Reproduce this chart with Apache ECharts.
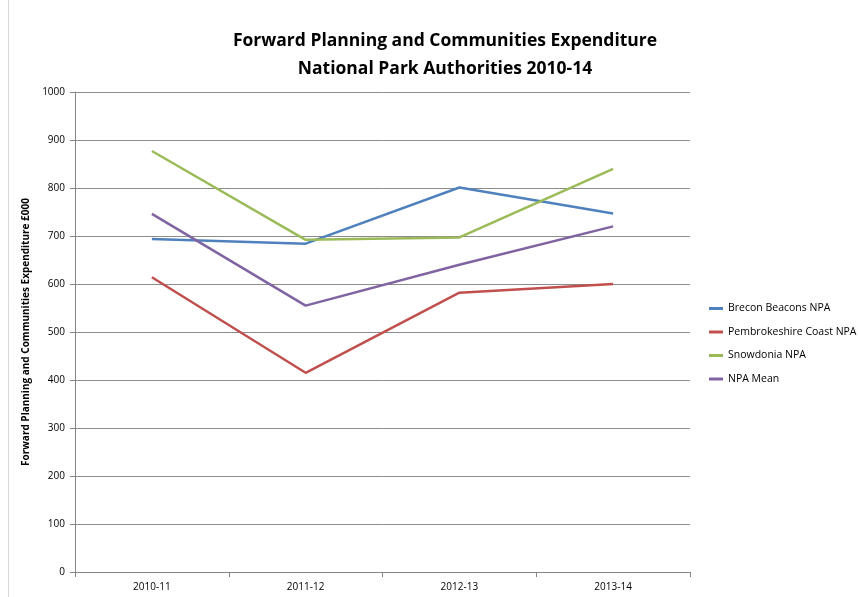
<!DOCTYPE html>
<html><head><meta charset="utf-8">
<script src="https://cdn.jsdelivr.net/npm/echarts@6/dist/echarts.min.js"></script>
<style>html,body{margin:0;padding:0;background:#fff}#c{width:858px;height:597px}</style>
</head><body><div id="c"></div>
<script>
const categories = ['2010-11','2011-12','2012-13','2013-14'];
const brecon = [694, 684, 801, 747];
const pembrokeshire = [614, 415, 582, 600];
const snowdonia = [877, 692, 697, 840];
const npaMean = [746, 555, 640, 720];
const seriesNames = ['Brecon Beacons NPA','Pembrokeshire Coast NPA','Snowdonia NPA','NPA Mean'];
const colors = ['#4F81BD','#C0504D','#9BBB59','#8064A2'];
const font = 'Open Sans, sans-serif';
const chart = echarts.init(document.getElementById('c'));
const mk = (name, data, color) => ({
  name, type: 'line', data, symbol: 'none', smooth: false,
  lineStyle: {color, width: 2.5}, itemStyle: {color}
});
chart.setOption({
  animation: false,
  title: {
    text: 'Forward Planning and Communities Expenditure\nNational Park Authorities 2010-14',
    left: 440, top: 22, textAlign: 'center',
    textStyle: {fontFamily: font, fontSize: 17.5, fontWeight: 'bold', color: '#000', lineHeight: 28}
  },
  legend: {
    orient: 'vertical', left: 704, top: 298, itemGap: 12.5, itemWidth: 14, itemHeight: 3,
    icon: 'rect', itemStyle: {borderWidth: 0},
    textStyle: {fontFamily: font, fontSize: 10.5, color: '#000'},
    data: seriesNames
  },
  grid: {left: 75, top: 92, width: 615, height: 480},
  xAxis: {
    type: 'category', data: categories, boundaryGap: true,
    axisLine: {lineStyle: {color: '#868686', width: 1}},
    axisTick: {show: true, length: 5, lineStyle: {color: '#868686'}},
    axisLabel: {fontFamily: font, fontSize: 10, color: '#000', margin: 10}
  },
  yAxis: {
    type: 'value', min: 0, max: 1000, interval: 100,
    name: 'Forward Planning and Communities Expenditure £000',
    nameLocation: 'middle', nameGap: 37, nameRotate: 90,
    nameTextStyle: {fontFamily: font, fontSize: 10, fontWeight: 'bold', color: '#000'},
    axisLine: {show: true, lineStyle: {color: '#868686'}},
    axisTick: {show: true, length: 5, lineStyle: {color: '#868686'}},
    axisLabel: {fontFamily: font, fontSize: 10, color: '#000', margin: 10, formatter: v => String(v)},
    splitLine: {lineStyle: {color: '#8c8c8c', width: 1}}
  },
  graphic: [{type: 'line', shape: {x1: 8.5, y1: 0, x2: 8.5, y2: 597}, style: {stroke: '#d9d9d9', lineWidth: 1}}],
  series: [
    mk(seriesNames[0], brecon, colors[0]),
    mk(seriesNames[1], pembrokeshire, colors[1]),
    mk(seriesNames[2], snowdonia, colors[2]),
    mk(seriesNames[3], npaMean, colors[3])
  ]
});
</script></body></html>
